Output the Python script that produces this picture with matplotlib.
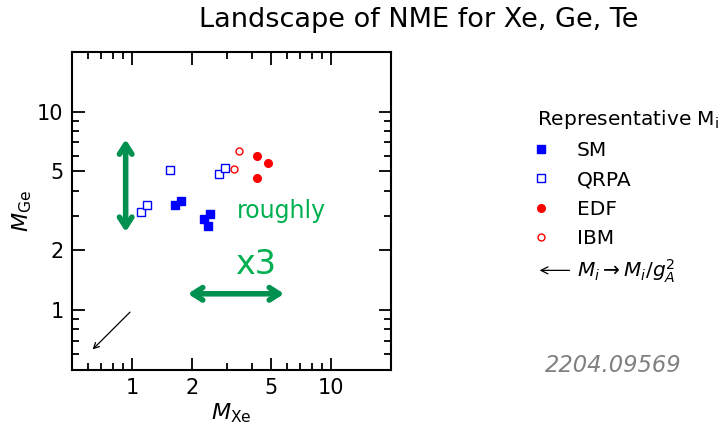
import numpy as np
import matplotlib.pyplot as plt
from matplotlib.ticker import FixedLocator, FixedFormatter, NullFormatter
from matplotlib.legend_handler import HandlerBase
from matplotlib.lines import Line2D
from matplotlib.patches import FancyArrowPatch

# data
sm_xe = [1.65, 1.76, 2.29, 2.46, 2.40]
sm_ge = [3.37, 3.54, 2.89, 3.06, 2.65]
qrpa_xe = [1.11, 1.19, 1.555, 2.74, 2.93]
qrpa_ge = [3.11, 3.40, 5.07, 4.84, 5.23]
edf_xe = [4.26, 4.82, 4.23]
edf_ge = [6.01, 5.53, 4.61]
ibm_xe = [3.43, 3.26]
ibm_ge = [6.32, 5.13]
gA2 = 1.27**2

major = [1, 2, 5, 10]
major_lab = ['1', '2', '5', '10']
minor = [0.6, 0.7, 0.8, 0.9, 3, 4, 6, 7, 8, 9, 20]


class LeftMarker(HandlerBase):
    # marker sits at the left of the handle box
    def create_artists(self, legend, orig, xd, yd, w, h, fs, trans):
        ln = Line2D([-xd + 0.12*w], [h/2 - yd])
        self.update_prop(ln, orig, legend)
        ln.set_linestyle('none')
        ln.set_markersize(orig.get_markersize())
        ln.set_transform(trans)
        return [ln]


class ArrowHandle(HandlerBase):
    def create_artists(self, legend, orig, xd, yd, w, h, fs, trans):
        a = FancyArrowPatch((-xd + w*1.1, h/2 - yd), (-xd, h/2 - yd),
                            arrowstyle='->,head_length=5,head_width=2.5',
                            mutation_scale=1, lw=0.9, color='black', transform=trans)
        return [a]


fig = plt.figure(figsize=(7.2, 4.26), dpi=100)
ax = fig.add_axes([0.1, 0.1315, 0.443, 0.7465])

h_sm, = ax.plot(sm_xe, sm_ge, 's', color='blue', ms=5.2, ls='none')
h_qr, = ax.plot(qrpa_xe, qrpa_ge, 's', mfc='white', mec='blue', mew=1.0, ms=5.2, ls='none')
h_edf, = ax.plot(edf_xe, edf_ge, 'o', color='red', ms=5.5, ls='none')
h_ibm, = ax.plot(ibm_xe, ibm_ge, 'o', mfc='white', mec='red', mew=1.0, ms=5, ls='none')

ax.set_xscale('log')
ax.set_yscale('log')
ax.set_xlim(0.5, 20)
ax.set_ylim(0.5, 20)

for a in (ax.xaxis, ax.yaxis):
    a.set_major_locator(FixedLocator(major))
    a.set_major_formatter(FixedFormatter(major_lab))
    a.set_minor_locator(FixedLocator(minor))
    a.set_minor_formatter(NullFormatter())
ax.tick_params(which='both', direction='in', top=True, right=True, labelsize=15, width=1.3)
ax.tick_params(which='major', length=9, pad=6)
ax.tick_params(which='minor', length=5)
for s in ax.spines.values():
    s.set_linewidth(1.5)

ax.set_xlabel(r'$M_{\rm Xe}$', fontsize=16, labelpad=2)
ax.set_ylabel(r'$M_{\rm Ge}$', fontsize=16, labelpad=2)

# quenching arrow
ax.annotate('', xy=(1/gA2, 1/gA2), xytext=(1, 1),
            arrowprops=dict(arrowstyle='->', color='black', lw=0.9))

green = '#009150'
ax.annotate('', xy=(0.93, 7.5), xytext=(0.93, 2.4),
            arrowprops=dict(arrowstyle='<->,head_length=0.7,head_width=0.45', color=green, lw=4))
ax.annotate('', xy=(1.85, 1.21), xytext=(6.0, 1.21),
            arrowprops=dict(arrowstyle='<->,head_length=0.7,head_width=0.45', color=green, lw=4))
ax.text(3.35, 3.17, 'roughly', color='#00b050', fontsize=17, va='center', ha='left')
ax.text(4.2, 1.7, 'x3', color='#00b050', fontsize=24, va='center', ha='center')

arrow_key = object()
handles = [h_sm, h_qr, h_edf, h_ibm, arrow_key]
labels = ['SM', 'QRPA', 'EDF', 'IBM', r'$M_i \rightarrow M_i/g_A^2$']
hmap = {h: LeftMarker() for h in handles[:4]}
hmap[arrow_key] = ArrowHandle()
leg = ax.legend(handles, labels, handler_map=hmap,
                loc='upper left', bbox_to_anchor=(1.432, 0.848), frameon=False,
                fontsize=14.5, title=r'Representative M$_{\rm i}$', title_fontsize=14.5,
                handlelength=1.6, handletextpad=0.4, labelspacing=0.5,
                borderaxespad=0, alignment='left')

fig.text(0.582, 0.952, 'Landscape of NME for Xe, Ge, Te', fontsize=19.5, ha='center', va='center')
fig.text(0.851, 0.143, '2204.09569', fontsize=16.3, color='gray', style='italic', ha='center', va='center')

fig.savefig('out.png', dpi=100)
